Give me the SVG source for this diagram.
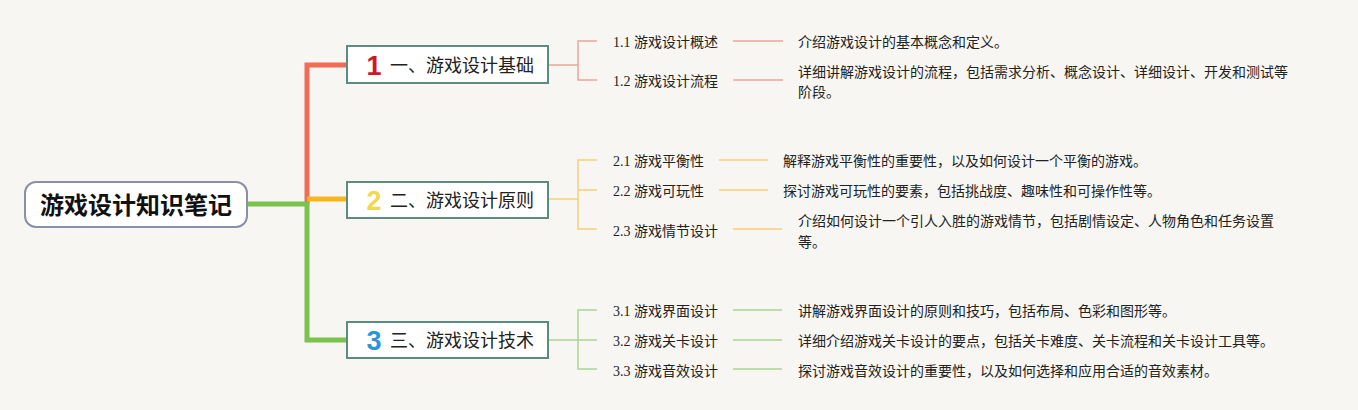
<svg xmlns="http://www.w3.org/2000/svg" width="1358" height="410" viewBox="0 0 1358 410">
<style>
.bg{fill:#f7f6f3}
.root{fill:#fff;stroke:#8b90a8;stroke-width:2}
.rootT{font-family:"Noto Sans CJK SC","Noto Sans",sans-serif;font-size:24px;font-weight:bold;fill:#111;text-anchor:middle}
.box{fill:#fff;stroke:#5a8c82;stroke-width:2}
.num{font-family:"Liberation Sans","Noto Sans",sans-serif;font-size:27px;font-weight:bold;text-anchor:middle}
.bt{font-family:"Noto Sans CJK SC",sans-serif;font-size:18px;fill:#222}
.sub{font-family:"Liberation Serif","Noto Sans CJK SC",serif;font-size:14px;fill:#222}
.desc{font-family:"Noto Sans CJK SC",sans-serif;font-size:14px;fill:#222}
.main{fill:none;stroke-width:5}
.thin{fill:none;stroke-width:1.5}
</style>
<rect class="bg" x="0" y="0" width="1358" height="410"/>
<g id="connectors">
<path class="main" stroke="#f26b55" d="M307,204 V65 H347"/>
<path class="main" stroke="#f9b61a" d="M307,199 H347"/>
<path class="main" stroke="#7bc24f" d="M247,204 H307 V340 H347"/>
<path class="thin" stroke="#f2a497" d="M548,65 H578 M597,41 H578 V80 H597 M733,41 H783 M733,80 H783"/>
<path class="thin" stroke="#f7cf7a" d="M548,199 H578 M597,160 H578 V229 H597 M719,160 H768 M719,190 H768 M578,190 H597 M733,229 H782"/>
<path class="thin" stroke="#a9d693" d="M548,340 H578 M597,310 H578 V369 H597 M578,340 H597 M733,310 H782 M733,340 H782 M733,369 H782"/>
</g>
<g id="root">
<rect class="root" x="25" y="182" width="222" height="45" rx="11"/>
<text class="rootT" x="136" y="214">游戏设计知识笔记</text>
</g>
<g id="topic1">
<rect class="box" x="347" y="46" width="201" height="37"/>
<text class="num" x="374" y="75" fill="#d4142c">1</text>
<text class="bt" x="390" y="72">一、游戏设计基础</text>
</g>
<g id="topic2">
<rect class="box" x="347" y="182" width="201" height="36"/>
<text class="num" x="374" y="210" fill="#f2d84e">2</text>
<text class="bt" x="390" y="207">二、游戏设计原则</text>
</g>
<g id="topic3">
<rect class="box" x="347" y="322" width="201" height="36"/>
<text class="num" x="374" y="350" fill="#2b95d9">3</text>
<text class="bt" x="390" y="347">三、游戏设计技术</text>
</g>
<g id="sub1-1"><text class="sub" x="613" y="47">1.1 游戏设计概述</text></g>
<g id="sub1-2"><text class="sub" x="613" y="86">1.2 游戏设计流程</text></g>
<g id="desc1-1"><text class="desc" x="798" y="47">介绍游戏设计的基本概念和定义。</text></g>
<g id="desc1-2"><text class="desc" x="798" y="77">详细讲解游戏设计的流程，包括需求分析、概念设计、详细设计、开发和测试等</text><text class="desc" x="798" y="97">阶段。</text></g>
<g id="sub2-1"><text class="sub" x="613" y="166">2.1 游戏平衡性</text></g>
<g id="sub2-2"><text class="sub" x="613" y="196">2.2 游戏可玩性</text></g>
<g id="sub2-3"><text class="sub" x="613" y="236">2.3 游戏情节设计</text></g>
<g id="desc2-1"><text class="desc" x="783" y="166">解释游戏平衡性的重要性，以及如何设计一个平衡的游戏。</text></g>
<g id="desc2-2"><text class="desc" x="783" y="196">探讨游戏可玩性的要素，包括挑战度、趣味性和可操作性等。</text></g>
<g id="desc2-3"><text class="desc" x="798" y="226">介绍如何设计一个引人入胜的游戏情节，包括剧情设定、人物角色和任务设置</text><text class="desc" x="798" y="247">等。</text></g>
<g id="sub3-1"><text class="sub" x="613" y="316">3.1 游戏界面设计</text></g>
<g id="sub3-2"><text class="sub" x="613" y="346">3.2 游戏关卡设计</text></g>
<g id="sub3-3"><text class="sub" x="613" y="376">3.3 游戏音效设计</text></g>
<g id="desc3-1"><text class="desc" x="798" y="316">讲解游戏界面设计的原则和技巧，包括布局、色彩和图形等。</text></g>
<g id="desc3-2"><text class="desc" x="798" y="346">详细介绍游戏关卡设计的要点，包括关卡难度、关卡流程和关卡设计工具等。</text></g>
<g id="desc3-3"><text class="desc" x="798" y="376">探讨游戏音效设计的重要性，以及如何选择和应用合适的音效素材。</text></g>
</svg>
